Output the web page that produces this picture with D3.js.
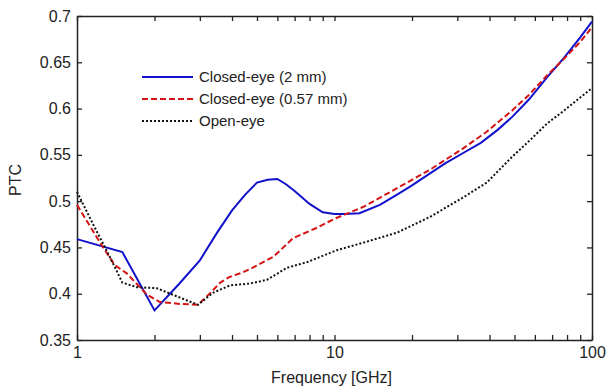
<!DOCTYPE html>
<html>
<head>
<meta charset="utf-8">
<script src="https://cdn.jsdelivr.net/npm/d3@7"></script>
<style>
  body { margin: 0; background: #fff; }
  text { font-family: Arial, "Liberation Sans", sans-serif; fill: #222; }
</style>
</head>
<body>
<div id="chart"></div>
<script>
// data
var freq2mm = [1, 1.5, 2, 2.5, 3, 3.5, 4, 4.5, 5, 5.5, 6, 6.5, 7, 8, 9, 10, 11, 12.5, 15, 17.5, 20, 23.5, 27, 31.6, 37, 43, 49, 57, 67, 78, 90, 100];
var ptc2mm  = [0.459, 0.445, 0.382, 0.411, 0.436, 0.466, 0.490, 0.507, 0.520, 0.523, 0.524, 0.518, 0.511, 0.497, 0.488, 0.486, 0.486, 0.487, 0.496, 0.507, 0.517, 0.530, 0.541, 0.552, 0.563, 0.577, 0.591, 0.610, 0.634, 0.655, 0.677, 0.694];

var freq057 = [1, 1.23, 1.4, 1.56, 1.87, 2.1, 2.5, 2.95, 3.3, 3.6, 3.9, 4.4, 4.8, 5.8, 6.9, 8.5, 10, 13, 17.5, 23.5, 31.6, 39, 49, 57, 67, 78, 90, 100];
var ptc057  = [0.496, 0.455, 0.431, 0.422, 0.399, 0.391, 0.389, 0.388, 0.401, 0.412, 0.418, 0.423, 0.428, 0.440, 0.460, 0.471, 0.481, 0.494, 0.514, 0.534, 0.557, 0.575, 0.598, 0.615, 0.636, 0.654, 0.672, 0.688];

var freqOpen = [1, 1.15, 1.34, 1.5, 1.71, 2.04, 2.5, 2.95, 3.37, 3.93, 4.7, 5.47, 6.53, 7.8, 10.2, 12.9, 17.5, 23.5, 31.6, 39, 49, 57, 67, 78, 90, 100];
var ptcOpen  = [0.510, 0.476, 0.440, 0.412, 0.407, 0.406, 0.396, 0.388, 0.401, 0.409, 0.411, 0.415, 0.428, 0.434, 0.447, 0.455, 0.466, 0.483, 0.504, 0.520, 0.548, 0.565, 0.584, 0.598, 0.612, 0.622];

var seriesNames = ["Closed-eye (2 mm)", "Closed-eye (0.57 mm)", "Open-eye"];
var yTicks = [0.35, 0.4, 0.45, 0.5, 0.55, 0.6, 0.65, 0.7];
var xTicks = [1,2,3,4,5,6,7,8,9,10,20,30,40,50,60,70,80,90,100];
var xLabels = [1, 10, 100];

var W = 608, H = 388;
var margin = {top: 16, right: 16, bottom: 48, left: 77};
var width = W - margin.left - margin.right,
    height = H - margin.top - margin.bottom;

var svg = d3.select("#chart").append("svg")
  .attr("width", W)
  .attr("height", H);

var g = svg.append("g")
  .attr("transform", "translate(" + margin.left + "," + margin.top + ")");

var x = d3.scaleLog().domain([1, 100]).range([0, width]);
var y = d3.scaleLinear().domain([0.35, 0.7]).range([height, 0]);

var fmtX = function(d) { return xLabels.indexOf(d) >= 0 ? String(d) : ""; };
var fmtY = function(d) { return String(+d.toFixed(2)); };

// axes, ticks pointing inside
var xBottom = g.append("g").attr("transform", "translate(0," + height + ")")
  .call(d3.axisBottom(x).tickValues(xTicks).tickFormat(fmtX).tickSizeInner(-5).tickSizeOuter(0).tickPadding(7));
var xTop = g.append("g")
  .call(d3.axisTop(x).tickValues(xTicks).tickFormat("").tickSizeInner(-5).tickSizeOuter(0));
var yLeft = g.append("g")
  .call(d3.axisLeft(y).tickValues(yTicks).tickFormat(fmtY).tickSizeInner(-5).tickSizeOuter(0).tickPadding(6));
var yRight = g.append("g").attr("transform", "translate(" + width + ",0)")
  .call(d3.axisRight(y).tickValues(yTicks).tickFormat("").tickSizeInner(-5).tickSizeOuter(0));

[xBottom, xTop, yLeft, yRight].forEach(function(a) {
  a.selectAll("path").attr("stroke", "#222").attr("stroke-width", 1.5);
  a.selectAll("line").attr("stroke", "#222").attr("stroke-width", 1.3);
  a.selectAll("text").attr("font-size", 16).attr("fill", "#222")
    .attr("font-family", "Arial, 'Liberation Sans', sans-serif");
});

// axis titles
g.append("text")
  .attr("x", width / 2 - 3)
  .attr("y", height + 43)
  .attr("text-anchor", "middle")
  .attr("font-size", 16)
  .text("Frequency [GHz]");

g.append("text")
  .attr("transform", "translate(" + (-56) + "," + (height / 2 + 2) + ") rotate(-90)")
  .attr("text-anchor", "middle")
  .attr("font-size", 16)
  .text("PTC");

// lines
var series = [
  {name: seriesNames[0], f: freq2mm, v: ptc2mm, color: "#1111cc", dash: null},
  {name: seriesNames[1], f: freq057, v: ptc057, color: "#d41414", dash: "6,3"},
  {name: seriesNames[2], f: freqOpen, v: ptcOpen, color: "#111", dash: "2,2"}
];

var line = d3.line()
  .x(function(d) { return x(d[0]); })
  .y(function(d) { return y(d[1]); });

g.selectAll(".series")
  .data(series)
  .enter().append("path")
  .attr("class", "series")
  .attr("fill", "none")
  .attr("stroke", function(d) { return d.color; })
  .attr("stroke-width", 2)
  .attr("stroke-dasharray", function(d) { return d.dash; })
  .attr("d", function(d) { return line(d.f.map(function(f, i) { return [f, d.v[i]]; })); });

// legend
var legend = g.selectAll(".legend")
  .data(series)
  .enter().append("g")
  .attr("class", "legend")
  .attr("transform", function(d, i) { return "translate(65," + (61 + i * 22) + ")"; });

legend.append("line")
  .attr("x1", 0).attr("x2", 51)
  .attr("stroke", function(d) { return d.color; })
  .attr("stroke-width", 2)
  .attr("stroke-dasharray", function(d) { return d.dash; });

legend.append("text")
  .attr("x", 57)
  .attr("y", 5)
  .attr("font-size", 15)
  .text(function(d) { return d.name; });
</script>
</body>
</html>
